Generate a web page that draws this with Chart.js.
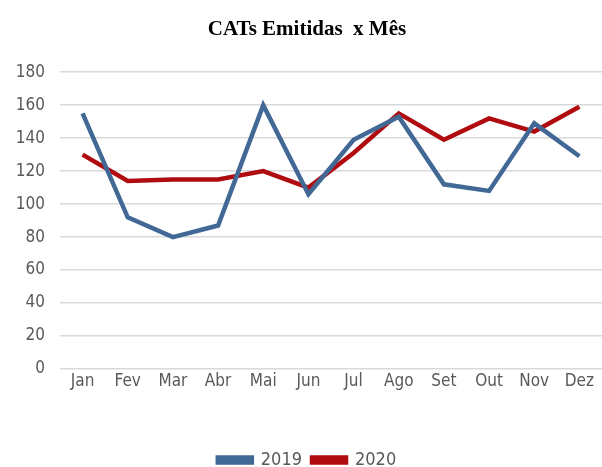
<!DOCTYPE html>
<html>
<head>
<meta charset="utf-8">
<script src="https://cdn.jsdelivr.net/npm/chart.js@4"></script>
<style>
  html, body { margin: 0; padding: 0; background: #fff; }
  #wrap { width: 602px; height: 467px; }
</style>
</head>
<body>
<div id="wrap"><canvas id="cats" width="602" height="467"></canvas></div>
<script>
// meses e valores
const meses = ['Jan', 'Fev', 'Mar', 'Abr', 'Mai', 'Jun', 'Jul', 'Ago', 'Set', 'Out', 'Nov', 'Dez'];
const cats2019 = [155, 92, 80, 87, 160, 106, 139, 153, 112, 108, 149, 129];
const cats2020 = [130, 114, 115, 115, 120, 110, 131, 155, 139, 152, 144, 159];
const yTicks = [0, 20, 40, 60, 80, 100, 120, 140, 160, 180];

const narrow = "'Liberation Sans Narrow', 'DejaVu Sans Condensed', 'Roboto', sans-serif";
const cinza = '#595959';

const ctx = document.getElementById('cats').getContext('2d');
new Chart(ctx, {
    type: 'line',
    data: {
        labels: meses,
        datasets: [{
            label: '2019',
            data: cats2019,
            borderColor: '#426895',
            backgroundColor: '#426895',
            borderWidth: 4.5,
            pointRadius: 0,
            tension: 0,
            fill: false
        }, {
            label: '2020',
            data: cats2020,
            borderColor: '#B00C10',
            backgroundColor: '#B00C10',
            borderWidth: 4.5,
            pointRadius: 0,
            tension: 0,
            fill: false
        }]
    },
    options: {
        responsive: false,
        animation: false,
        layout: { padding: { top: 0, left: 12, right: 0, bottom: -12 } },
        plugins: {
            title: {
                display: true,
                text: 'CATs Emitidas  x Mês',
                color: '#000',
                font: { family: "'Liberation Serif', 'Times New Roman', serif", size: 21, weight: 'bold' },
                padding: { top: 17, bottom: 30 }
            },
            legend: {
                position: 'bottom',
                labels: {
                    color: cinza,
                    font: { family: narrow, size: 18 },
                    boxWidth: 34,
                    boxHeight: 5,
                    padding: 10
                }
            },
            tooltip: { enabled: false }
        },
        scales: {
            x: {
                offset: true,
                grid: { display: false },
                border: { display: false },
                afterFit: axis => { axis.height = 72; },
                ticks: { color: cinza, font: { family: narrow, size: 17 }, padding: -6 }
            },
            y: {
                min: 0,
                max: 180,
                afterBuildTicks: axis => { axis.ticks = yTicks.map(v => ({ value: v })); },
                afterFit: axis => { axis.width = 48; },
                grid: { color: '#d9d9d9', lineWidth: 1.5, drawTicks: false },
                border: { display: false },
                ticks: { color: cinza, font: { family: narrow, size: 17 }, padding: 15 }
            }
        }
    }
});
</script>
</body>
</html>
